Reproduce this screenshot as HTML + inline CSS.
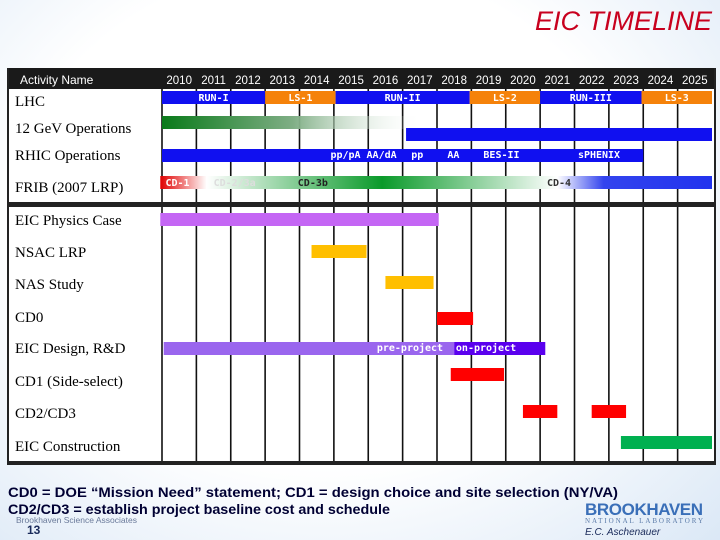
<!DOCTYPE html>
<html><head><meta charset="utf-8"><style>
html,body{margin:0;padding:0;width:720px;height:540px;overflow:hidden;background:#fff}
#bg{position:absolute;left:0;top:0;width:720px;height:540px;background:radial-gradient(ellipse at 45% 40%,#fff 55%,#dbe8f6 100%)}
svg{position:absolute;left:0;top:0}
</style></head><body>
<div id="bg"></div>
<svg id="chart" width="720" height="540">
<defs>
<linearGradient id="g12" x1="0" x2="1"><stop offset="0" stop-color="#0a7a1a"/><stop offset="0.5" stop-color="#7fae85"/><stop offset="1" stop-color="#ffffff" stop-opacity="0"/></linearGradient>
<linearGradient id="gred" x1="0" x2="1"><stop offset="0" stop-color="#e00000"/><stop offset="1" stop-color="#ffffff"/></linearGradient>
<linearGradient id="ggreen" x1="0" x2="1"><stop offset="0" stop-color="#ffffff"/><stop offset="0.5" stop-color="#0a9a2a"/><stop offset="1" stop-color="#ffffff"/></linearGradient>
<linearGradient id="gblue" x1="0" x2="1"><stop offset="0" stop-color="#ffffff"/><stop offset="0.3" stop-color="#3344ee"/><stop offset="1" stop-color="#2233ee"/></linearGradient>
</defs>
<text x="712" y="30" text-anchor="end" font-family="Liberation Sans, sans-serif" font-size="27" font-style="italic" fill="#c8001e">EIC TIMELINE</text>
<rect x="8" y="89" width="708" height="375" fill="#fff"/>
<rect x="8" y="68" width="708" height="21" fill="#1a1a1a"/>
<text x="20" y="84" font-family="Liberation Sans, sans-serif" font-size="12" fill="#fff">Activity Name</text>
<g id="grid"></g><g id="bars"></g><g id="labels"></g>
<rect x="8" y="202" width="708" height="5" fill="#222"/>
<rect x="7" y="68" width="2" height="397" fill="#222"/>
<rect x="714" y="68" width="2" height="397" fill="#222"/>
<rect x="7" y="461" width="709" height="4" fill="#222"/>
<g font-family="Liberation Sans, sans-serif" font-size="14" font-weight="bold" fill="#000033">
<text x="8" y="497" textLength="610" lengthAdjust="spacingAndGlyphs">CD0 = DOE “Mission Need” statement;   CD1 = design choice and site selection (NY/VA)</text>
<text x="8" y="514" textLength="382" lengthAdjust="spacingAndGlyphs">CD2/CD3 = establish project baseline cost and schedule</text>
<text x="27" y="534" font-size="12" fill="#1a2a5a">13</text>
</g>
<text x="16" y="523" font-family="Liberation Sans, sans-serif" font-size="8.5" fill="#6a7a9a">Brookhaven Science Associates</text>
<text x="585" y="515" font-family="Liberation Sans, sans-serif" font-size="17" font-weight="bold" fill="#3a6fb8" textLength="118">BROOKHAVEN</text>
<text x="585" y="523" font-family="Liberation Serif, serif" font-size="7" fill="#5a7aa8" textLength="118">NATIONAL LABORATORY</text>
<text x="585" y="535" font-family="Liberation Sans, sans-serif" font-size="10" font-style="italic" fill="#1a2a5a">E.C. Aschenauer</text>
</svg>
<script>
const years=[2010,2011,2012,2013,2014,2015,2016,2017,2018,2019,2020,2021,2022,2023,2024,2025];
const activities=["LHC","12 GeV Operations","RHIC Operations","FRIB (2007 LRP)","EIC Physics Case","NSAC LRP","NAS Study","CD0","EIC Design,  R&D","CD1 (Side-select)","CD2/CD3","EIC Construction"];
const barRow=[0,0,0,0,0,0,1,1,2,3,3,3,4,5,6,7,8,8,9,10,10,11];
const barStart=[2010,2013,2015.05,2018.95,2021,2023.95,2010,2017.1,2010,2009.95,2011.3,2021.5,2009.95,2014.35,2016.5,2018,2010.05,2018.5,2018.4,2020.5,2022.5,2023.35];
const barEnd=[2013,2015.05,2018.95,2021,2023.95,2026,2017.6,2026,2024,2011.3,2021.5,2026,2018.05,2015.95,2017.9,2019.05,2018.5,2021.15,2019.95,2021.5,2023.5,2026];
const barFill=["#1010f0","#f5820a","#1010f0","#f5820a","#1010f0","#f5820a","url(#g12)","#1010f0","#1010f0","url(#gred)","url(#ggreen)","url(#gblue)","#c466f4","#ffbf00","#ffbf00","#f00","#9a66ee","#5a00ee","#f00","#f00","#f00","#00b050"];
const barText=["RUN-I","LS-1","RUN-II","LS-2","RUN-III","LS-3","","","","","","","","","","","","","","","","",""];
const rhicLabels=["pp/pA","AA/dA","pp","AA","BES-II","sPHENIX"];
const rhicLabelYear=[2014.9,2015.95,2017.25,2018.3,2019.35,2022.1];
const fribLabels=["CD-1","CD-2/3a","CD-3b","CD-4"];
const fribLabelYear=[2010.1,2011.5,2013.95,2021.2];
const designLabels=["pre-project","on-project"];
const designLabelYear=[2016.25,2018.55];

const X0=162,X1=712;
const x=y=>X0+(y-2010)*(X1-X0)/16;
const rowTop=[91,116,149,176,213,245,276,312,342,368,405,436];
const rowLabelY=[106,133,160,192,225,257,289,322,353,386,418,451];
const NS="http://www.w3.org/2000/svg";
function mk(t,a,p){const e=document.createElementNS(NS,t);for(const k in a)e.setAttribute(k,a[k]);p.appendChild(e);return e;}
const grid=document.getElementById('grid'),bars=document.getElementById('bars'),labels=document.getElementById('labels');
years.forEach((yr,i)=>{
  const l=mk('line',{x1:x(yr),x2:x(yr),y1:89,y2:463,stroke:'#111','stroke-width':1.6},grid);
  
  
  const t=mk('text',{x:x(yr+0.5),y:84,'text-anchor':'middle','font-family':'Liberation Sans, sans-serif','font-size':11.5,fill:'#fff'},grid);
  t.textContent=yr;
  
  
});
activities.forEach((a,i)=>{
  const t=mk('text',{x:15,y:rowLabelY[i],'font-family':'Liberation Serif, serif','font-size':15,fill:'#000'},labels);
  t.textContent=a;
  
  
});
barRow.forEach((r,i)=>{
  let top=rowTop[r];
  if(r===1&&i===7)top=128;
  const b=mk('rect',{x:x(barStart[i]),y:top,width:x(barEnd[i])-x(barStart[i]),height:13,fill:barFill[i]},bars);
  
  
  if(barText[i]){
    const t=mk('text',{x:(x(barStart[i])+x(barEnd[i]))/2,y:top+10,'text-anchor':'middle','font-family':'DejaVu Sans Mono, monospace','font-size':10,'font-weight':'bold',fill:'#fff'},bars);
    t.textContent=barText[i];
    
    
  }
});
function addLabels(arr,yrs,y,name,colors){
  arr.forEach((s,i)=>{
    const t=mk('text',{x:x(yrs[i]),y:y,'font-family':'DejaVu Sans Mono, monospace','font-size':10,'font-weight':'bold',fill:colors?colors[i]:'#fff'},bars);
    t.textContent=s;
    
    
  });
}
addLabels(rhicLabels,rhicLabelYear,158,'rhic-run-label');
addLabels(fribLabels,fribLabelYear,186,'frib-milestone-label',['#fff','#ddd','#222','#333']);
addLabels(designLabels,designLabelYear,351,'design-phase-label');
</script>
</body></html>
